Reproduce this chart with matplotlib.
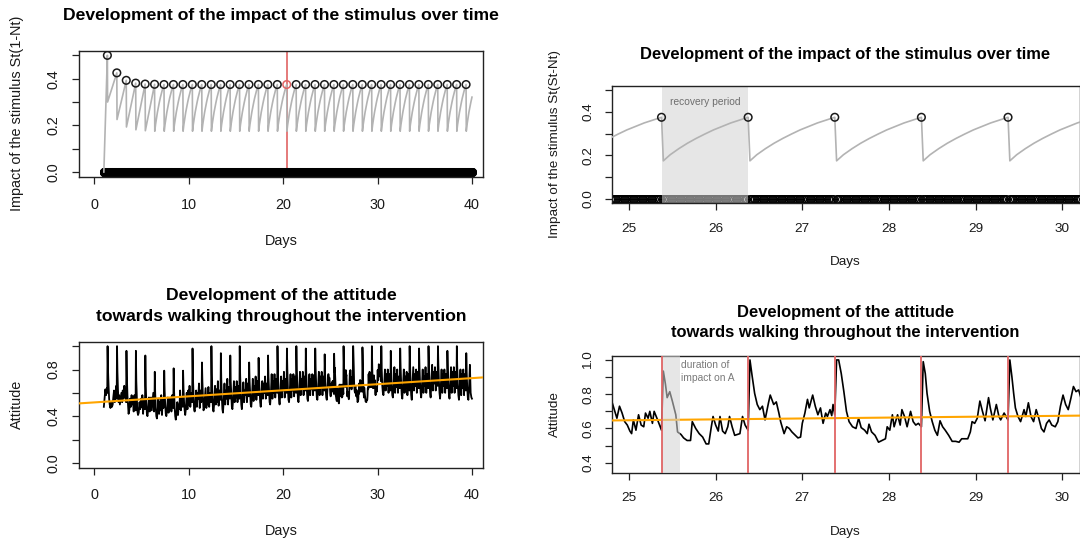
import numpy as np
import matplotlib
matplotlib.use("Agg")
import matplotlib.pyplot as plt

plt.rcParams['font.family'] = ['Liberation Sans', 'DejaVu Sans']

# ---- stimulus impact ----
stim_days = list(range(1, 40))          # one stimulus per day at 9:00
stim_hour = 0.375
step = 1 / 48                           # model time step (30 min)
peak_values = [0.500, 0.425, 0.393, 0.381, 0.377, 0.376] + [0.375] * 33
early_troughs = [0.300, 0.225, 0.193, 0.181, 0.177]
recovery_offsets = [0.021, 0.1, 0.2, 0.3, 0.4, 0.5, 0.6, 0.7, 0.8, 0.9]
recovery_values = [0.175, 0.203, 0.231, 0.256, 0.278, 0.298, 0.317, 0.333, 0.349, 0.362]
end_value = 0.321
marked_day = 20

# ---- attitude ----
att_offsets = [0.0, 0.08, 0.16, 0.24, 0.32, 0.36, 0.396, 0.44, 0.5, 0.56, 0.62, 0.7, 0.78, 0.86, 0.94]
coarse_days = list(range(1, 25)) + list(range(30, 40))
coarse_rows = [
    [0.48, 0.55, 0.63, 0.58, 0.64, 0.60, 1.00, 0.80, 0.66, 0.55, 0.50, 0.47, 0.52, 0.48, 0.50],
    [0.56, 0.62, 0.52, 0.58, 0.66, 0.55, 1.00, 0.78, 0.62, 0.52, 0.58, 0.50, 0.55, 0.60, 0.52],
    [0.62, 0.55, 0.66, 0.56, 0.62, 0.52, 0.96, 0.74, 0.58, 0.50, 0.42, 0.45, 0.55, 0.48, 0.58],
    [0.50, 0.56, 0.44, 0.58, 0.52, 0.45, 0.96, 0.70, 0.55, 0.44, 0.41, 0.43, 0.52, 0.46, 0.55],
    [0.48, 0.58, 0.42, 0.55, 0.48, 0.46, 0.92, 0.66, 0.52, 0.42, 0.40, 0.46, 0.56, 0.44, 0.50],
    [0.56, 0.45, 0.52, 0.60, 0.44, 0.48, 0.78, 0.60, 0.48, 0.40, 0.38, 0.44, 0.55, 0.42, 0.52],
    [0.45, 0.58, 0.41, 0.54, 0.47, 0.50, 0.79, 0.62, 0.50, 0.42, 0.40, 0.45, 0.56, 0.43, 0.55],
    [0.48, 0.56, 0.44, 0.58, 0.50, 0.47, 0.81, 0.62, 0.48, 0.40, 0.37, 0.42, 0.52, 0.41, 0.50],
    [0.46, 0.62, 0.45, 0.56, 0.50, 0.48, 0.79, 0.64, 0.52, 0.45, 0.41, 0.47, 0.60, 0.46, 0.62],
    [0.50, 0.66, 0.48, 0.60, 0.53, 0.52, 0.98, 0.74, 0.58, 0.46, 0.44, 0.50, 0.62, 0.48, 0.60],
    [0.55, 0.68, 0.47, 0.62, 0.52, 0.56, 0.86, 0.70, 0.56, 0.45, 0.47, 0.55, 0.64, 0.47, 0.58],
    [0.50, 0.65, 0.48, 0.60, 0.54, 0.52, 1.00, 0.76, 0.58, 0.46, 0.44, 0.52, 0.66, 0.50, 0.63],
    [0.52, 0.70, 0.49, 0.62, 0.55, 0.54, 0.94, 0.72, 0.56, 0.46, 0.43, 0.53, 0.68, 0.50, 0.62],
    [0.55, 0.72, 0.50, 0.65, 0.57, 0.55, 0.92, 0.70, 0.58, 0.48, 0.46, 0.55, 0.70, 0.52, 0.65],
    [0.56, 0.70, 0.52, 0.66, 0.58, 0.55, 1.00, 0.76, 0.60, 0.50, 0.46, 0.56, 0.69, 0.52, 0.62],
    [0.58, 0.72, 0.52, 0.68, 0.60, 0.57, 0.86, 0.70, 0.60, 0.50, 0.48, 0.57, 0.72, 0.53, 0.66],
    [0.58, 0.74, 0.54, 0.70, 0.60, 0.58, 0.90, 0.72, 0.62, 0.52, 0.48, 0.58, 0.70, 0.55, 0.68],
    [0.60, 0.74, 0.55, 0.68, 0.62, 0.58, 0.92, 0.74, 0.62, 0.52, 0.50, 0.60, 0.76, 0.55, 0.70],
    [0.60, 0.76, 0.56, 0.72, 0.63, 0.60, 1.00, 0.80, 0.64, 0.54, 0.50, 0.60, 0.74, 0.56, 0.70],
    [0.62, 0.78, 0.56, 0.72, 0.64, 0.60, 0.98, 0.80, 0.64, 0.54, 0.52, 0.62, 0.76, 0.56, 0.72],
    [0.62, 0.76, 0.57, 0.74, 0.65, 0.60, 1.00, 0.80, 0.65, 0.55, 0.52, 0.62, 0.78, 0.58, 0.72],
    [0.64, 0.78, 0.58, 0.74, 0.66, 0.62, 0.98, 0.78, 0.64, 0.55, 0.53, 0.63, 0.76, 0.58, 0.72],
    [0.63, 0.76, 0.58, 0.75, 0.66, 0.62, 0.98, 0.80, 0.66, 0.56, 0.54, 0.64, 0.78, 0.58, 0.74],
    [0.64, 0.78, 0.58, 0.74, 0.66, 0.62, 0.93, 0.76, 0.64, 0.56, 0.54, 0.64, 0.76, 0.70, 0.74],
    [0.84, 0.80, 0.82, 0.74, 0.78, 0.70, 1.00, 0.80, 0.66, 0.60, 0.58, 0.66, 0.80, 0.62, 0.76],
    [0.66, 0.80, 0.60, 0.76, 0.68, 0.62, 0.96, 0.80, 0.66, 0.58, 0.56, 0.66, 0.82, 0.60, 0.76],
    [0.65, 0.80, 0.60, 0.74, 0.68, 0.64, 0.98, 0.82, 0.68, 0.58, 0.55, 0.66, 0.80, 0.60, 0.74],
    [0.64, 0.78, 0.58, 0.76, 0.66, 0.62, 1.00, 0.84, 0.68, 0.58, 0.54, 0.68, 0.82, 0.62, 0.76],
    [0.66, 0.80, 0.60, 0.78, 0.68, 0.64, 0.98, 0.82, 0.68, 0.60, 0.56, 0.66, 0.80, 0.60, 0.74],
    [0.66, 0.82, 0.60, 0.76, 0.70, 0.64, 1.00, 0.84, 0.70, 0.60, 0.56, 0.68, 0.84, 0.62, 0.78],
    [0.68, 0.82, 0.62, 0.78, 0.70, 0.66, 1.00, 0.84, 0.70, 0.60, 0.55, 0.66, 0.80, 0.60, 0.76],
    [0.66, 0.80, 0.60, 0.76, 0.68, 0.64, 0.96, 0.82, 0.68, 0.58, 0.55, 0.66, 0.82, 0.60, 0.78],
    [0.66, 0.82, 0.60, 0.78, 0.70, 0.64, 1.00, 0.82, 0.68, 0.58, 0.54, 0.64, 0.80, 0.58, 0.76],
    [0.64, 0.80, 0.58, 0.76, 0.68, 0.62, 0.94, 0.78, 0.64, 0.56, 0.54, 0.66, 0.84, 0.60, 0.56],
]
att_end = (40.0, 0.55)

# zoomed window 24.8 - 30.2
detail_days = [
    24.80, 24.83, 24.86, 24.89, 24.92, 24.95, 24.98, 25.01, 25.03, 25.05, 25.08, 25.11, 25.14,
    25.17, 25.19, 25.22, 25.24, 25.27, 25.29, 25.33, 25.375, 25.396, 25.42, 25.44, 25.47, 25.50,
    25.54, 25.56, 25.60, 25.63, 25.67, 25.71, 25.73, 25.77, 25.81, 25.85, 25.89, 25.92, 25.95,
    25.97, 26.00, 26.03, 26.05, 26.08, 26.11, 26.14, 26.16, 26.19, 26.22, 26.25, 26.28, 26.31,
    26.34, 26.375, 26.396, 26.42, 26.45, 26.48, 26.51, 26.54, 26.57, 26.61, 26.63, 26.67, 26.70,
    26.73, 26.75, 26.79, 26.82, 26.85, 26.88, 26.92, 26.95, 26.98, 27.00, 27.03, 27.06, 27.08,
    27.12, 27.15, 27.18, 27.21, 27.24, 27.27, 27.29, 27.32, 27.34, 27.355, 27.375, 27.396, 27.42,
    27.45, 27.48, 27.51, 27.54, 27.58, 27.62, 27.65, 27.68, 27.72, 27.75, 27.77, 27.80, 27.84,
    27.88, 27.92, 27.96, 27.98, 28.01, 28.04, 28.06, 28.10, 28.13, 28.15, 28.18, 28.21, 28.25,
    28.28, 28.31, 28.34, 28.375, 28.396, 28.42, 28.44, 28.47, 28.50, 28.53, 28.56, 28.59, 28.62,
    28.65, 28.69, 28.73, 28.77, 28.81, 28.84, 28.87, 28.91, 28.94, 28.96, 28.99, 29.02, 29.05,
    29.08, 29.11, 29.15, 29.17, 29.20, 29.24, 29.27, 29.29, 29.33, 29.375, 29.396, 29.42, 29.44,
    29.46, 29.49, 29.52, 29.56, 29.58, 29.61, 29.64, 29.67, 29.70, 29.73, 29.76, 29.79, 29.82,
    29.85, 29.88, 29.92, 29.95, 29.98, 30.01, 30.04, 30.07, 30.10, 30.13, 30.16, 30.19,
]
detail_att = [
    0.76, 0.71, 0.66, 0.73, 0.69, 0.64, 0.62, 0.585, 0.57, 0.65, 0.59, 0.68, 0.62,
    0.61, 0.69, 0.66, 0.70, 0.63, 0.70, 0.65, 0.59, 0.935, 0.86, 0.78, 0.815, 0.76,
    0.68, 0.58, 0.565, 0.545, 0.53, 0.53, 0.64, 0.60, 0.57, 0.55, 0.51, 0.51, 0.61,
    0.67, 0.62, 0.585, 0.67, 0.585, 0.57, 0.61, 0.67, 0.61, 0.56, 0.565, 0.57, 0.67,
    0.62, 0.59, 1.00, 0.91, 0.805, 0.74, 0.71, 0.73, 0.65, 0.75, 0.795, 0.74, 0.755,
    0.69, 0.64, 0.57, 0.61, 0.60, 0.58, 0.56, 0.545, 0.55, 0.63, 0.69, 0.77, 0.72,
    0.795, 0.73, 0.68, 0.72, 0.63, 0.69, 0.67, 0.71, 0.675, 0.74, 0.68, 1.00, 1.00,
    0.92, 0.815, 0.70, 0.64, 0.61, 0.60, 0.66, 0.605, 0.59, 0.57, 0.625, 0.58, 0.56,
    0.52, 0.53, 0.54, 0.61, 0.59, 0.68, 0.61, 0.68, 0.62, 0.71, 0.67, 0.61, 0.70,
    0.64, 0.62, 0.63, 0.61, 0.99, 0.92, 0.805, 0.70, 0.64, 0.59, 0.56, 0.645, 0.61,
    0.59, 0.56, 0.525, 0.525, 0.52, 0.54, 0.54, 0.54, 0.58, 0.64, 0.63, 0.66, 0.76,
    0.70, 0.645, 0.78, 0.72, 0.65, 0.74, 0.67, 0.65, 0.69, 0.65, 1.00, 0.90, 0.805,
    0.72, 0.67, 0.64, 0.71, 0.67, 0.75, 0.67, 0.64, 0.71, 0.66, 0.60, 0.58, 0.63,
    0.65, 0.62, 0.61, 0.64, 0.73, 0.795, 0.74, 0.71, 0.775, 0.845, 0.815, 0.825,
]
trend_intercept = 0.518
trend_slope = 0.0052

recovery_span = (25.375, 26.375)
impact_span = (25.375, 25.583)

# ---- build series ----
imp_t, imp_v = [1.0], [0.0]
for i, day in enumerate(stim_days):
    s = day + stim_hour
    imp_t.append(s)
    imp_v.append(peak_values[i])
    if i < len(early_troughs):
        imp_t.append(s + step)
        imp_v.append(early_troughs[i])
    else:
        for off, v in zip(recovery_offsets, recovery_values):
            if s + off < stim_days[-1] + 1:
                imp_t.append(s + off)
                imp_v.append(v)
imp_t.append(stim_days[-1] + 1.0)
imp_v.append(end_value)

n_steps = (stim_days[-1]) * 48
grid_t = stim_days[0] + np.arange(n_steps + 1) * step
stim_idx = [(d - stim_days[0]) * 48 + 18 for d in stim_days]
keep = np.ones(len(grid_t), bool)
keep[stim_idx] = False
zero_t = grid_t[keep]
stim_t = np.array(stim_days) + stim_hour

att_t, att_v = [], []
for day, row in zip(coarse_days, coarse_rows):
    for off, v in zip(att_offsets, row):
        t = day + off
        if detail_days[0] - 0.005 < t < detail_days[-1] + 0.005:
            continue
        att_t.append(t)
        att_v.append(v)
att_t += detail_days
att_v += detail_att
att_t.append(att_end[0])
att_v.append(att_end[1])
order = np.argsort(att_t)
att_t = np.array(att_t)[order]
att_v = np.array(att_v)[order]

# ---- figure ----
W, H = 1080, 545
fig = plt.figure(figsize=(W / 100, H / 100), dpi=100)


def box(l, t, r, b):
    return [l / W, 1 - b / H, (r - l) / W, (b - t) / H]


def fxy(x, y):
    return x / W, 1 - y / H


def style(ax, fs, ticklen, xpad, ypad, yticks, ylabels):
    for s in ax.spines.values():
        s.set_linewidth(1.0)
        s.set_color('#222222')
    ax.tick_params(direction='out', length=ticklen, width=0.9, color='#222222',
                   labelsize=fs, labelcolor='#1a1a1a')
    ax.tick_params(axis='x', pad=xpad)
    ax.tick_params(axis='y', pad=ypad)
    ax.set_yticks(yticks, ylabels, rotation=90, va='center')


GREY_LINE = '#b3b3b3'
RED = '#e06464'
SHADE = '#d4d4d4'

ax1 = fig.add_axes(box(79.3, 50.7, 483.3, 176.7))
ax2 = fig.add_axes(box(611.7, 85.7, 1079.5, 203.3))
ax3 = fig.add_axes(box(79.3, 341.5, 483.3, 467.5))
ax4 = fig.add_axes(box(611.7, 356.0, 1079.5, 472.7))

peak_cols = ['#1a1a1a' if d != marked_day else RED for d in stim_days]

for ax in (ax1, ax2):
    ax.plot(imp_t, imp_v, color=GREY_LINE, lw=1.2, zorder=3)
    ax.plot(zero_t, np.zeros(len(zero_t)), 'o', ms=5.6, mfc='none', mec='black', mew=0.9, zorder=2)
    ax.scatter(stim_t, peak_values, s=30, facecolors='none', edgecolors=peak_cols,
               linewidths=1.1, zorder=5)
    ax.set_ylim(-0.02, 0.52)

ax1.axvline(marked_day + stim_hour, color=RED, lw=1.2, zorder=1.5)
ax1.set_xlim(-1.6, 41.2)
ax1.set_xticks([0, 10, 20, 30, 40])
style(ax1, 10.4, 5.0, 10.0, 8.5, [0, 0.1, 0.2, 0.3, 0.4, 0.5], ['0.0', '', '0.2', '', '0.4', ''])

ax2.axvspan(*recovery_span, color=SHADE, alpha=0.56, lw=0, zorder=2.5)
ax2.text(sum(recovery_span) / 2, 0.445, 'recovery period', ha='center', va='center',
         fontsize=7.4, color='#6e6e6e', zorder=6)
ax2.set_xlim(24.8, 30.2)
ax2.set_xticks([25, 26, 27, 28, 29, 30])
style(ax2, 9.7, 4.7, 9.3, 7.9, [0, 0.1, 0.2, 0.3, 0.4, 0.5], ['0.0', '', '0.2', '', '0.4', ''])

for ax, lw in ((ax3, 1.3), (ax4, 1.2)):
    ax.plot(att_t, att_v, color='black', lw=lw, zorder=2)
    ax.axline((0, trend_intercept), slope=trend_slope, color='#FFA500', lw=1.5, zorder=3)

ax3.set_xlim(-1.6, 41.2)
ax3.set_ylim(-0.04, 1.04)
ax3.set_xticks([0, 10, 20, 30, 40])
style(ax3, 10.4, 5.0, 10.0, 8.5, [0, 0.2, 0.4, 0.6, 0.8, 1.0], ['0.0', '', '0.4', '', '0.8', ''])

ax4.axvspan(*impact_span, color=SHADE, alpha=0.56, lw=0, zorder=4)
for s in stim_t:
    ax4.axvline(s, color=RED, lw=1.3, zorder=5)
ax4.text(impact_span[1] + 0.02, 0.932, 'duration of\nimpact on A', ha='left', va='center',
         fontsize=7.4, color='#7a7a7a', linespacing=1.3, zorder=6)
ax4.set_xlim(24.8, 30.2)
ax4.set_ylim(0.342, 1.023)
ax4.set_xticks([25, 26, 27, 28, 29, 30])
style(ax4, 9.7, 4.7, 9.3, 7.9, [0.4, 0.5, 0.6, 0.7, 0.8, 0.9, 1.0],
      ['0.4', '', '0.6', '', '0.8', '', '1.0'])

# titles and axis labels
tk = dict(ha='center', va='center', fontweight='bold')
fig.text(*fxy(281.3, 15.5), 'Development of the impact of the stimulus over time', fontsize=12.6, **tk)
fig.text(*fxy(845.4, 54.0), 'Development of the impact of the stimulus over time', fontsize=11.9, **tk)
fig.text(*fxy(281.3, 295.5), 'Development of the attitude', fontsize=12.6, **tk)
fig.text(*fxy(281.3, 316.5), 'towards walking throughout the intervention', fontsize=12.6, **tk)
fig.text(*fxy(845.4, 312.5), 'Development of the attitude', fontsize=11.9, **tk)
fig.text(*fxy(845.4, 332.0), 'towards walking throughout the intervention', fontsize=11.9, **tk)

lk = dict(ha='center', va='center', color='#1a1a1a')
fig.text(*fxy(281.3, 241.0), 'Days', fontsize=10.4, **lk)
fig.text(*fxy(845.4, 262.0), 'Days', fontsize=9.7, **lk)
fig.text(*fxy(281.3, 531.0), 'Days', fontsize=10.4, **lk)
fig.text(*fxy(845.4, 531.5), 'Days', fontsize=9.7, **lk)
fig.text(*fxy(16.7, 113.7), 'Impact of the stimulus St(1-Nt)', fontsize=10.4, rotation=90, **lk)
fig.text(*fxy(555.0, 144.5), 'Impact of the stimulus St(St-Nt)', fontsize=9.7, rotation=90, **lk)
fig.text(*fxy(16.7, 404.5), 'Attitude', fontsize=10.4, rotation=90, **lk)
fig.text(*fxy(555.0, 414.3), 'Attitude', fontsize=9.7, rotation=90, **lk)

fig.savefig('out.png', dpi=100, facecolor='white')
